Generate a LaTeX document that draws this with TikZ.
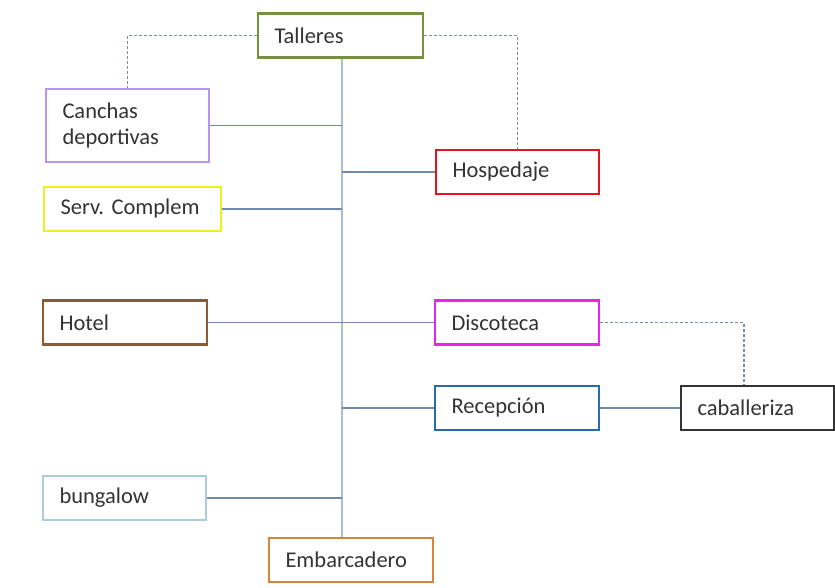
\documentclass[tikz,border=0pt]{standalone}
\usepackage{fontspec}
\setmainfont{Carlito}
\definecolor{cTall}{HTML}{77913F}
\definecolor{cCanch}{HTML}{B794F2}
\definecolor{cHosp}{HTML}{E3141F}
\definecolor{cServ}{HTML}{EEEE22}
\definecolor{cHotel}{HTML}{8E5A32}
\definecolor{cDisco}{HTML}{EE22EE}
\definecolor{cRecep}{HTML}{2A6AAE}
\definecolor{cCaba}{HTML}{333333}
\definecolor{cBung}{HTML}{A8CCD8}
\definecolor{cEmb}{HTML}{D8843C}
\definecolor{cLine}{HTML}{7089AE}
\definecolor{cTrunk}{HTML}{A9BFD5}
\definecolor{cDash}{HTML}{7D8DA6}
\definecolor{cText}{HTML}{333333}
\begin{document}
\begin{tikzpicture}[x=1pt,y=-1pt,
  box/.style={draw, line width=2.4pt, inner xsep=16.5pt, inner ysep=0pt,
    minimum height=44pt, align=left, text=cText,
    font=\fontsize{22.5}{26}\selectfont},
  link/.style={draw=cLine, line width=1.4pt},
  trunkline/.style={draw=cTrunk, line width=1.8pt},
  dashlink/.style={draw=cDash, line width=1.4pt, dash pattern=on 3pt off 2pt}]
\useasboundingbox (0,0) rectangle (835,588);
\node[box, draw=cTall, text width=132pt] (tal) at (340.5,35.5) {Talleres};
\node[box, draw=cCanch, line width=2pt, text width=130pt, minimum height=73pt] (can) at (127.5,125.5) {Canchas\\deportivas};
\node[box, draw=cHosp, text width=130pt] (hos) at (517.5,172) {Hospedaje};
\node[box, draw=cServ, text width=144pt] (ser) at (132.5,209) {Serv.\ Complem};
\node[box, draw=cHotel, text width=131pt] (hot) at (125,322.5) {Hotel};
\node[box, draw=cDisco, text width=131pt] (dis) at (517,322.5) {Discoteca};
\node[box, draw=cRecep, text width=131pt] (rec) at (517,408) {Recepción};
\node[box, draw=cCaba, line width=1.5pt, text width=120pt] (cab) at (757.5,408) {caballeriza};
\node[box, draw=cBung, line width=2pt, text width=130pt] (bun) at (124.5,498) {bungalow};
\node[box, draw=cEmb, text width=131pt] (emb) at (351,560) {Embarcadero};
\coordinate (t) at (342,0);
\coordinate (cabtop) at ([xshift=-13.5pt]cab.north);
\draw[trunkline] (tal.south -| t) -- (emb.north -| t);
\draw[link] (can.east) -- (can.east -| t);
\draw[link] (hos.west) -- (hos.west -| t);
\draw[link] (ser.east) -- (ser.east -| t);
\draw[link] (hot.east) -- (dis.west);
\draw[link] (rec.west) -- (rec.west -| t);
\draw[link] (rec.east) -- (cab.west);
\draw[link] (bun.east) -- (bun.east -| t);
\draw[dashlink] (tal.west) -| (can.north);
\draw[dashlink] (tal.east) -| (hos.north);
\draw[dashlink] (dis.east) -| (cabtop);
\end{tikzpicture}
\end{document}
